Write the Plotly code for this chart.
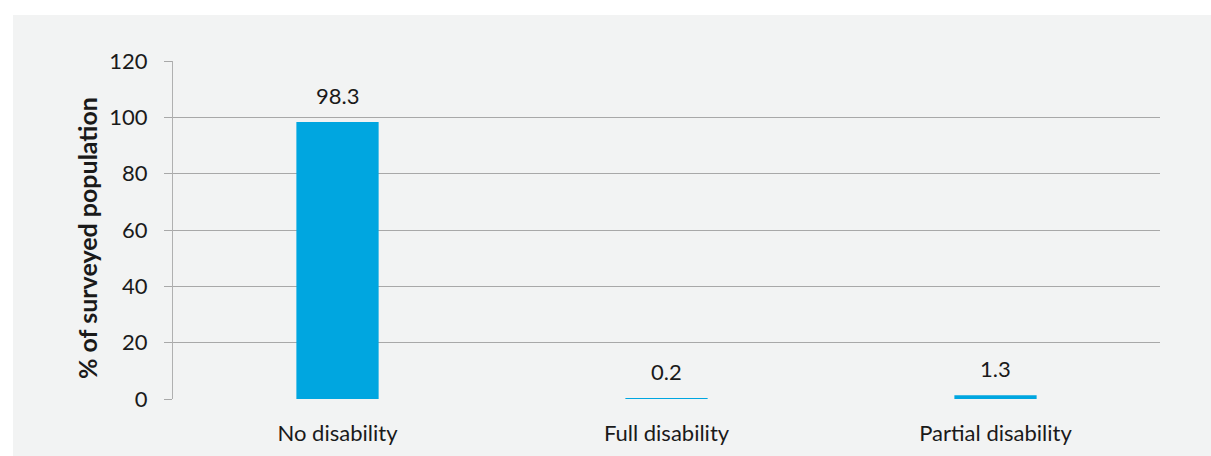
import plotly.graph_objects as go

categories = ["No disability", "Full disability", "Partial disability"]
values = [98.3, 0.2, 1.3]
value_labels = ["98.3", "0.2", "1.3"]
y_ticks = [0, 20, 40, 60, 80, 100, 120]
y_title = "<b>% of surveyed population</b>"

FONT = "Lato"
FS = 22
W, H = 1211, 456
L, R, T, B = 173, 51, 61, 57
pw, ph = W - L - R, H - T - B

fig = go.Figure()
fig.add_trace(go.Bar(x=categories, y=values, width=0.25, marker_color="#00a6e0",
                     marker_line_width=0, hoverinfo="skip"))

for c, v, t in zip(categories, values, value_labels):
    fig.add_annotation(x=c, y=v, text=t, showarrow=False, yanchor="middle",
                       yshift=27, font=dict(family=FONT, size=FS, color="#1a1a1a"))

# y-axis title as rotated annotation
fig.add_annotation(xref="paper", yref="paper", x=(87 - L) / pw, y=((H - B) - 238) / ph,
                   text=y_title, textangle=-90, showarrow=False,
                   xanchor="center", yanchor="middle",
                   font=dict(family=FONT, size=25, color="#1a1a1a"))

# gray panel background
fig.add_shape(type="rect", xref="paper", yref="paper", layer="below",
              x0=(13 - L) / pw, x1=(W - L) / pw,
              y0=-B / ph - 0.01, y1=((H - B) - 15) / ph,
              fillcolor="#f2f3f3", line_width=0)

fig.update_layout(
    width=W, height=H,
    margin=dict(l=L, r=R, t=T, b=B, pad=0, autoexpand=False),
    paper_bgcolor="white", plot_bgcolor="rgba(0,0,0,0)",
    showlegend=False,
    font=dict(family=FONT, size=FS, color="#1a1a1a"),
    bargap=0.75,
)
fig.update_yaxes(range=[0, 120], tickvals=y_ticks, showgrid=True, gridcolor="#a8a8a8",
                 gridwidth=1, showline=True, linecolor="#b0b0b0", linewidth=1,
                 ticks="outside", ticklen=8, tickcolor="#a8a8a8",
                 ticklabelstandoff=12, zeroline=False, automargin=False,
                 tickfont=dict(family=FONT, size=FS, color="#1a1a1a"))
fig.update_xaxes(showgrid=False, showline=False, ticks="", ticklabelstandoff=19,
                 automargin=False,
                 tickfont=dict(family=FONT, size=FS, color="#1a1a1a"))

fig.write_html("out.html")
